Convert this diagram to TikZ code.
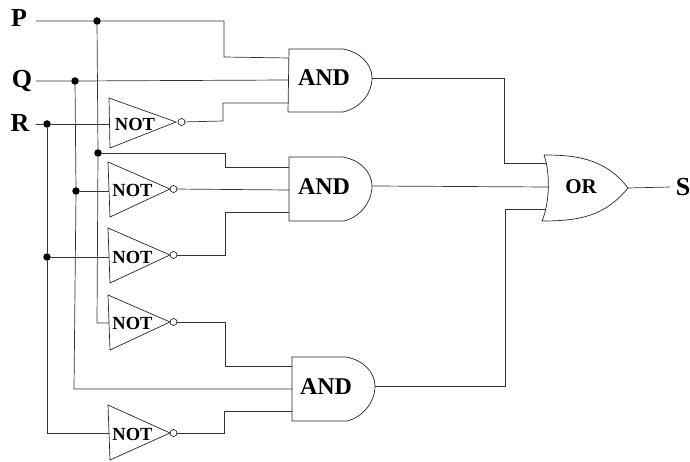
\documentclass[tikz,border=0pt]{standalone}
\usepackage{fontspec}
\setmainfont{Liberation Serif}
\tikzset{
  wire/.style={draw=black!80,line width=0.7pt,line join=miter},
  gate/.style={draw=black!85,line width=0.7pt,line join=miter},
  bubble/.style={circle,draw=black!85,line width=0.7pt,fill=white,minimum size=7pt,inner sep=0pt,outer sep=0pt},
  dotnode/.style={circle,fill=black,minimum size=7.5pt,inner sep=0pt,outer sep=0pt},
  notlabel/.style={font=\bfseries\fontsize{18.5}{19}\selectfont,inner sep=0pt},
  andlabel/.style={font=\bfseries\fontsize{24}{26}\selectfont,inner sep=0pt},
  orlabel/.style={font=\bfseries\fontsize{21}{22}\selectfont,inner sep=0pt},
  iolabel/.style={font=\bfseries\fontsize{26}{28}\selectfont,inner sep=0pt},
}
\begin{document}
\begin{tikzpicture}[x=1pt,y=-1pt]
\useasboundingbox (0,0) rectangle (690,462);
% terminal labels
\node[iolabel] (P) at (19,18) {P};
\node[iolabel] (Q) at (22,81) {Q};
\node[iolabel] (R) at (20,123) {R};
\node[iolabel] (S) at (683,187) {S};
\coordinate (Pw) at (36,21);
\coordinate (Qw) at (36,81);
\coordinate (Rw) at (36,124);
\coordinate (Sw) at (670,187);
% gate labels
\node[notlabel] (n1) at (135,124.5) {NOT};
\node[notlabel] (n2) at (132.5,190.5) {NOT};
\node[notlabel] (n3) at (132.5,257) {NOT};
\node[notlabel] (n4) at (132.5,323) {NOT};
\node[notlabel] (n5) at (132.5,434) {NOT};
\node[andlabel] (a1) at (324,78) {AND};
\node[andlabel] (a2) at (324,187) {AND};
\node[andlabel] (a3) at (326,387) {AND};
\node[orlabel] (or) at (581,187) {OR};
% junctions
\node[dotnode] (dP1) at (97,21) {};
\node[dotnode] (dP2) at (98,153) {};
\node[dotnode] (dQ1) at (75,81) {};
\node[dotnode] (dQ2) at (76,191) {};
\node[dotnode] (dR1) at (47,124) {};
\node[dotnode] (dR2) at (47,257) {};
% pins
\coordinate (a1i1) at (289,58);
\coordinate (a1i2) at (289,80);
\coordinate (a1i3) at (289,103);
\coordinate (a2i1) at (289,167);
\coordinate (a2i2) at (289,190);
\coordinate (a2i3) at (289,212);
\coordinate (a3i1) at (292,366);
\coordinate (a3i2) at (292,389);
\coordinate (a3i3) at (292,411);
\coordinate (a1o) at (372,78);
\coordinate (a2o) at (372,186);
\coordinate (a3o) at (375,386);
\coordinate (oi1) at (546,163);
\coordinate (oi2) at (549,187);
\coordinate (oi3) at (546,209);
\coordinate (oo) at (628,188);
\coordinate (n1i) at (110,124);
\coordinate (n2i) at (109,191);
\coordinate (n3i) at (109,257);
\coordinate (n4i) at (109,323);
\coordinate (n5i) at (109,433);
\node[bubble] (b1) at (181.5,122) {};
\node[bubble] (b2) at (173.5,189) {};
\node[bubble] (b3) at (173.5,255) {};
\node[bubble] (b4) at (173.5,322) {};
\node[bubble] (b5) at (173.5,433) {};
% wires
\draw[wire] (Pw) -- (dP1) -- (224,21) -- (224,57) -- (a1i1);
\draw[wire] (Qw) -- (dQ1) -- (a1i2);
\draw[wire] (Rw) -- (dR1) -- (n1i);
\draw[wire] (dP1) -- (dP2) -- (97,323) -- (n4i);
\draw[wire] (dP2) -- (225,153) -- (225,167) -- (a2i1);
\draw[wire] (dQ1) -- (dQ2) -- (74,389) -- (a3i2);
\draw[wire] (dQ2) -- (n2i);
\draw[wire] (dR1) -- (dR2) -- (47,433) -- (n5i);
\draw[wire] (dR2) -- (n3i);
\draw[wire] (b1) -- (223,121) -- (223,103) -- (a1i3);
\draw[wire] (b2) -- (a2i2);
\draw[wire] (b3) -- (225,255) -- (225,212) -- (a2i3);
\draw[wire] (b4) -- (225,322) -- (225,366) -- (a3i1);
\draw[wire] (b5) -- (224,433) -- (224,411) -- (a3i3);
\draw[wire] (a1o) -- (504,78) -- (504,163) -- (oi1);
\draw[wire] (a2o) -- (oi2);
\draw[wire] (a3o) -- (505,386) -- (505,209) -- (oi3);
\draw[wire] (oo) -- (Sw);
% gate outlines
\draw[gate] (109,98) -- (176,122) -- (110,148) -- cycle;
\draw[gate] (108,162) -- (170,189) -- (110,217) -- cycle;
\draw[gate] (108,228) -- (170,255) -- (110,283) -- cycle;
\draw[gate] (108,295) -- (170,322) -- (110,350) -- cycle;
\draw[gate] (108,405) -- (170,433) -- (110,460) -- cycle;
\draw[gate] (289,49) -- (343,49) .. controls (360,52) and (372,64) .. (372,78)
   .. controls (372,94) and (360,108) .. (343,112) -- (288,112) -- cycle;
\draw[gate] (289,157) -- (343,157) .. controls (360,160) and (372,172) .. (372,186)
   .. controls (372,202) and (360,217) .. (344,221) -- (289,221) -- cycle;
\draw[gate] (292,357) -- (346,357) .. controls (363,360) and (375,372) .. (375,386)
   .. controls (375,402) and (363,417) .. (347,421) -- (292,421) -- cycle;
\draw[gate] (544,155) .. controls (575,155) and (605,158) .. (628,188)
   .. controls (605,216) and (580,221) .. (542,221)
   .. controls (549,205) and (551,175) .. (544,155) -- cycle;
\end{tikzpicture}
\end{document}
